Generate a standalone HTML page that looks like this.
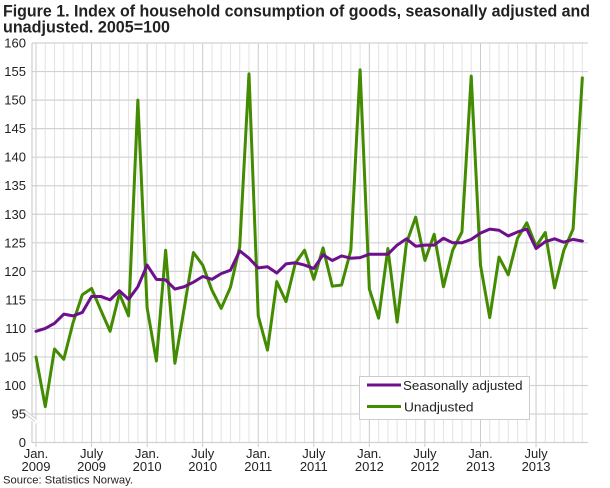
<!DOCTYPE html>
<html><head><meta charset="utf-8"><style>
html,body{margin:0;padding:0;background:#fff;}
svg{display:block;}
text{font-family:"Liberation Sans",Arial,sans-serif;fill:#222;}
</style></head><body>
<svg width="610" height="488" viewBox="0 0 610 488" xmlns="http://www.w3.org/2000/svg">
<rect width="610" height="488" fill="#fff"/>
<text x="3" y="16.5" font-size="16.5" font-weight="bold" textLength="587" lengthAdjust="spacingAndGlyphs">Figure 1. Index of household consumption of goods, seasonally adjusted and</text>
<text x="3" y="32.5" font-size="16.5" font-weight="bold" textLength="167" lengthAdjust="spacingAndGlyphs">unadjusted. 2005=100</text>

<g stroke="#e3e3e3" stroke-width="1">
<line x1="45.26" y1="43" x2="45.26" y2="443"/><line x1="54.52" y1="43" x2="54.52" y2="443"/><line x1="63.78" y1="43" x2="63.78" y2="443"/><line x1="73.04" y1="43" x2="73.04" y2="443"/><line x1="82.30" y1="43" x2="82.30" y2="443"/>
<line x1="100.82" y1="43" x2="100.82" y2="443"/><line x1="110.08" y1="43" x2="110.08" y2="443"/><line x1="119.34" y1="43" x2="119.34" y2="443"/><line x1="128.60" y1="43" x2="128.60" y2="443"/><line x1="137.86" y1="43" x2="137.86" y2="443"/>
<line x1="156.38" y1="43" x2="156.38" y2="443"/><line x1="165.64" y1="43" x2="165.64" y2="443"/><line x1="174.90" y1="43" x2="174.90" y2="443"/><line x1="184.16" y1="43" x2="184.16" y2="443"/><line x1="193.42" y1="43" x2="193.42" y2="443"/>
<line x1="211.94" y1="43" x2="211.94" y2="443"/><line x1="221.20" y1="43" x2="221.20" y2="443"/><line x1="230.46" y1="43" x2="230.46" y2="443"/><line x1="239.72" y1="43" x2="239.72" y2="443"/><line x1="248.98" y1="43" x2="248.98" y2="443"/>
<line x1="267.50" y1="43" x2="267.50" y2="443"/><line x1="276.76" y1="43" x2="276.76" y2="443"/><line x1="286.02" y1="43" x2="286.02" y2="443"/><line x1="295.28" y1="43" x2="295.28" y2="443"/><line x1="304.54" y1="43" x2="304.54" y2="443"/>
<line x1="323.06" y1="43" x2="323.06" y2="443"/><line x1="332.32" y1="43" x2="332.32" y2="443"/><line x1="341.58" y1="43" x2="341.58" y2="443"/><line x1="350.84" y1="43" x2="350.84" y2="443"/><line x1="360.10" y1="43" x2="360.10" y2="443"/>
<line x1="378.62" y1="43" x2="378.62" y2="443"/><line x1="387.88" y1="43" x2="387.88" y2="443"/><line x1="397.14" y1="43" x2="397.14" y2="443"/><line x1="406.40" y1="43" x2="406.40" y2="443"/><line x1="415.66" y1="43" x2="415.66" y2="443"/>
<line x1="434.18" y1="43" x2="434.18" y2="443"/><line x1="443.44" y1="43" x2="443.44" y2="443"/><line x1="452.70" y1="43" x2="452.70" y2="443"/><line x1="461.96" y1="43" x2="461.96" y2="443"/><line x1="471.22" y1="43" x2="471.22" y2="443"/>
<line x1="489.74" y1="43" x2="489.74" y2="443"/><line x1="499.00" y1="43" x2="499.00" y2="443"/><line x1="508.26" y1="43" x2="508.26" y2="443"/><line x1="517.52" y1="43" x2="517.52" y2="443"/><line x1="526.78" y1="43" x2="526.78" y2="443"/>
<line x1="545.30" y1="43" x2="545.30" y2="443"/><line x1="554.56" y1="43" x2="554.56" y2="443"/><line x1="563.82" y1="43" x2="563.82" y2="443"/><line x1="573.08" y1="43" x2="573.08" y2="443"/><line x1="582.34" y1="43" x2="582.34" y2="443"/>
</g>
<g stroke="#cbcbcb" stroke-width="1">
<line x1="36" y1="43" x2="36" y2="447"/><line x1="91.56" y1="43" x2="91.56" y2="447"/><line x1="147.12" y1="43" x2="147.12" y2="447"/><line x1="202.68" y1="43" x2="202.68" y2="447"/><line x1="258.24" y1="43" x2="258.24" y2="447"/><line x1="313.80" y1="43" x2="313.80" y2="447"/><line x1="369.36" y1="43" x2="369.36" y2="447"/><line x1="424.92" y1="43" x2="424.92" y2="447"/><line x1="480.48" y1="43" x2="480.48" y2="447"/><line x1="536.04" y1="43" x2="536.04" y2="447"/>
</g>
<g stroke="#d2d2d2" stroke-width="1.2">
<line x1="32" y1="43.02" x2="588" y2="43.02"/><line x1="32" y1="71.56" x2="588" y2="71.56"/><line x1="32" y1="100.1" x2="588" y2="100.1"/><line x1="32" y1="128.64" x2="588" y2="128.64"/><line x1="32" y1="157.18" x2="588" y2="157.18"/><line x1="32" y1="185.72" x2="588" y2="185.72"/><line x1="32" y1="214.26" x2="588" y2="214.26"/><line x1="32" y1="242.8" x2="588" y2="242.8"/><line x1="32" y1="271.34" x2="588" y2="271.34"/><line x1="32" y1="299.88" x2="588" y2="299.88"/><line x1="32" y1="328.42" x2="588" y2="328.42"/><line x1="32" y1="356.96" x2="588" y2="356.96"/><line x1="32" y1="385.5" x2="588" y2="385.5"/><line x1="32" y1="414" x2="588" y2="414"/><line x1="32" y1="442.5" x2="588" y2="442.5"/>
</g>
<line x1="32" y1="43" x2="32" y2="443" stroke="#c4c4c4" stroke-width="1"/>
<!-- axis break -->
<line x1="23" y1="413.5" x2="37" y2="422" stroke="#fff" stroke-width="4"/>
<line x1="23" y1="412" x2="35" y2="421.5" stroke="#cfcfcf" stroke-width="1"/>
<line x1="25" y1="410" x2="37" y2="419.5" stroke="#cfcfcf" stroke-width="1"/>

<g font-size="13" text-anchor="end">
<text x="26" y="47.5">160</text><text x="26" y="76">155</text><text x="26" y="104.6">150</text><text x="26" y="133.1">145</text><text x="26" y="161.7">140</text><text x="26" y="190.2">135</text><text x="26" y="218.8">130</text><text x="26" y="247.3">125</text><text x="26" y="275.8">120</text><text x="26" y="304.4">115</text><text x="26" y="332.9">110</text><text x="26" y="361.5">105</text><text x="26" y="390">100</text><text x="26" y="418.5">95</text><text x="26" y="447">0</text>
</g>
<g font-size="13" text-anchor="middle">
<text x="36" y="458">Jan.</text><text x="36" y="471">2009</text>
<text x="91.56" y="458">July</text><text x="91.56" y="471">2009</text>
<text x="147.12" y="458">Jan.</text><text x="147.12" y="471">2010</text>
<text x="202.68" y="458">July</text><text x="202.68" y="471">2010</text>
<text x="258.24" y="458">Jan.</text><text x="258.24" y="471">2011</text>
<text x="313.80" y="458">July</text><text x="313.80" y="471">2011</text>
<text x="369.36" y="458">Jan.</text><text x="369.36" y="471">2012</text>
<text x="424.92" y="458">July</text><text x="424.92" y="471">2012</text>
<text x="480.48" y="458">Jan.</text><text x="480.48" y="471">2013</text>
<text x="536.04" y="458">July</text><text x="536.04" y="471">2013</text>
</g>
<text x="3" y="483.5" font-size="11" fill="#333" textLength="130" lengthAdjust="spacingAndGlyphs">Source: Statistics Norway.</text>

<g transform="translate(36,385.5) scale(9.26,-5.708) translate(0,-100)" fill="none" stroke-linejoin="round" stroke-linecap="round">
<polyline vector-effect="non-scaling-stroke" stroke="#438b00" stroke-width="3" points="0,105.0 1,96.3 2,106.4 3,104.6 4,111.0 5,115.9 6,117.0 7,113.2 8,109.5 9,116.1 10,112.2 11,150.0 12,113.6 13,104.3 14,123.7 15,103.9 16,113.5 17,123.3 18,121.1 19,116.7 20,113.5 21,117.2 22,124.3 23,154.6 24,112.2 25,106.2 26,118.2 27,114.7 28,121.4 29,123.7 30,118.6 31,124.1 32,117.4 33,117.6 34,123.7 35,155.3 36,116.9 37,111.8 38,124.0 39,111.1 40,124.9 41,129.5 42,121.9 43,126.5 44,117.3 45,123.7 46,126.9 47,154.2 48,121.1 49,111.9 50,122.5 51,119.4 52,125.8 53,128.5 54,124.4 55,126.8 56,117.1 57,123.7 58,127.4 59,153.9"/>
<polyline vector-effect="non-scaling-stroke" stroke="#6e0f8c" stroke-width="3" points="0,109.5 1,110.0 2,110.9 3,112.5 4,112.2 5,112.8 6,115.6 7,115.6 8,115.0 9,116.6 10,115.1 11,117.3 12,121.1 13,118.6 14,118.5 15,116.9 16,117.3 17,118.1 18,119.1 19,118.6 20,119.6 21,120.2 22,123.6 23,122.3 24,120.6 25,120.8 26,119.7 27,121.3 28,121.5 29,121.1 30,120.5 31,122.9 32,121.9 33,122.7 34,122.3 35,122.4 36,123.0 37,123.0 38,123.0 39,124.6 40,125.7 41,124.4 42,124.6 43,124.6 44,125.8 45,125.0 46,125.0 47,125.6 48,126.7 49,127.4 50,127.2 51,126.2 52,126.9 53,127.4 54,124.0 55,125.2 56,125.7 57,125.1 58,125.6 59,125.3"/>
</g>

<rect x="359.5" y="376.5" width="170" height="43" fill="#fff" stroke="#cccccc" stroke-width="1"/>
<line x1="367" y1="385" x2="401" y2="385" stroke="#6e0f8c" stroke-width="3"/>
<line x1="367" y1="406.5" x2="401" y2="406.5" stroke="#438b00" stroke-width="3"/>
<text x="403" y="389.8" font-size="13" textLength="119.5" lengthAdjust="spacingAndGlyphs">Seasonally adjusted</text>
<text x="404" y="411.3" font-size="13" textLength="69.5" lengthAdjust="spacingAndGlyphs">Unadjusted</text>
</svg>
</body></html>
